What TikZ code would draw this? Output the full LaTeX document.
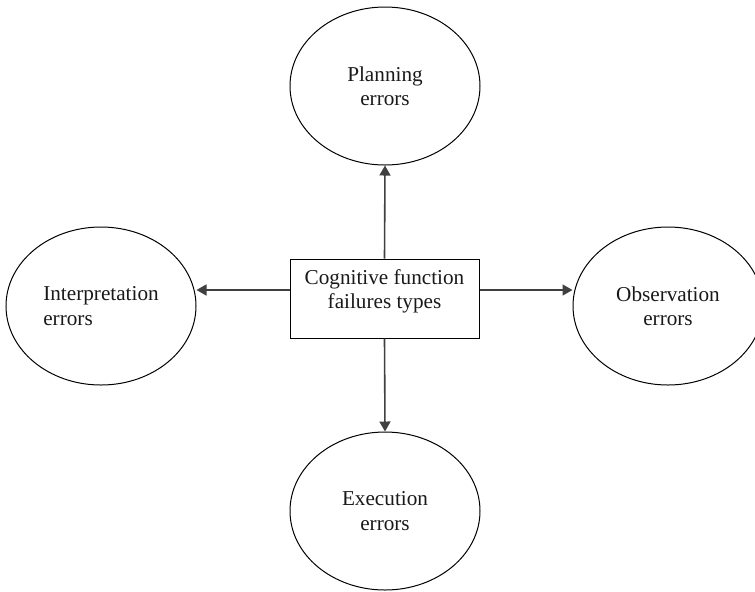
\documentclass[tikz,border=0pt]{standalone}
\usepackage{fontspec}
\setmainfont{Liberation Serif}
\usetikzlibrary{shapes.geometric,arrows.meta}

\tikzset{
  errbubble/.style={ellipse, draw=black, line width=0.5pt,
    minimum width=95pt, minimum height=79pt, inner sep=0pt,
    font=\fontsize{10.6}{12.2}\selectfont, text=black!90},
  corebox/.style={rectangle, draw=black, line width=0.5pt,
    minimum width=94.5pt, minimum height=39.5pt, inner sep=0pt,
    font=\fontsize{10.6}{12.4}\selectfont, text=black!90},
  flow/.style={-{Triangle[length=5pt,width=5.5pt]}, line width=0.8pt, draw=black!75}
}

\begin{document}
\begin{tikzpicture}[x=0.5pt,y=-0.5pt]
  \clip (0,0) rectangle (755,591);

  % central box and the four error classes
  \node[corebox] (core) at (384.5,298.5)
    {\raisebox{3.5pt}[\height][\depth]{\begin{tabular}{@{}c@{}}Cognitive function\\failures types\end{tabular}}};
  \node[errbubble, align=center] (plan) at (385,86)  {Planning\\errors};
  \node[errbubble, align=left]   (interp) at (101,306) {Interpretation\\errors};
  \node[errbubble, align=center] (obs) at (668,306) {Observation\\errors};
  \node[errbubble, align=center] (exec) at (385,511) {Execution\\errors};

  % connectors
  \coordinate (lh) at ([yshift=4.25pt]core.west);
  \coordinate (rh) at ([yshift=4.25pt]core.east);
  \draw[flow] (core.north) -- (plan.south);
  \draw[flow] (core.south) -- (exec.north);
  \draw[flow] (lh) -- (lh -| interp.east);
  \draw[flow] (rh) -- (rh -| obs.west);
\end{tikzpicture}
\end{document}
